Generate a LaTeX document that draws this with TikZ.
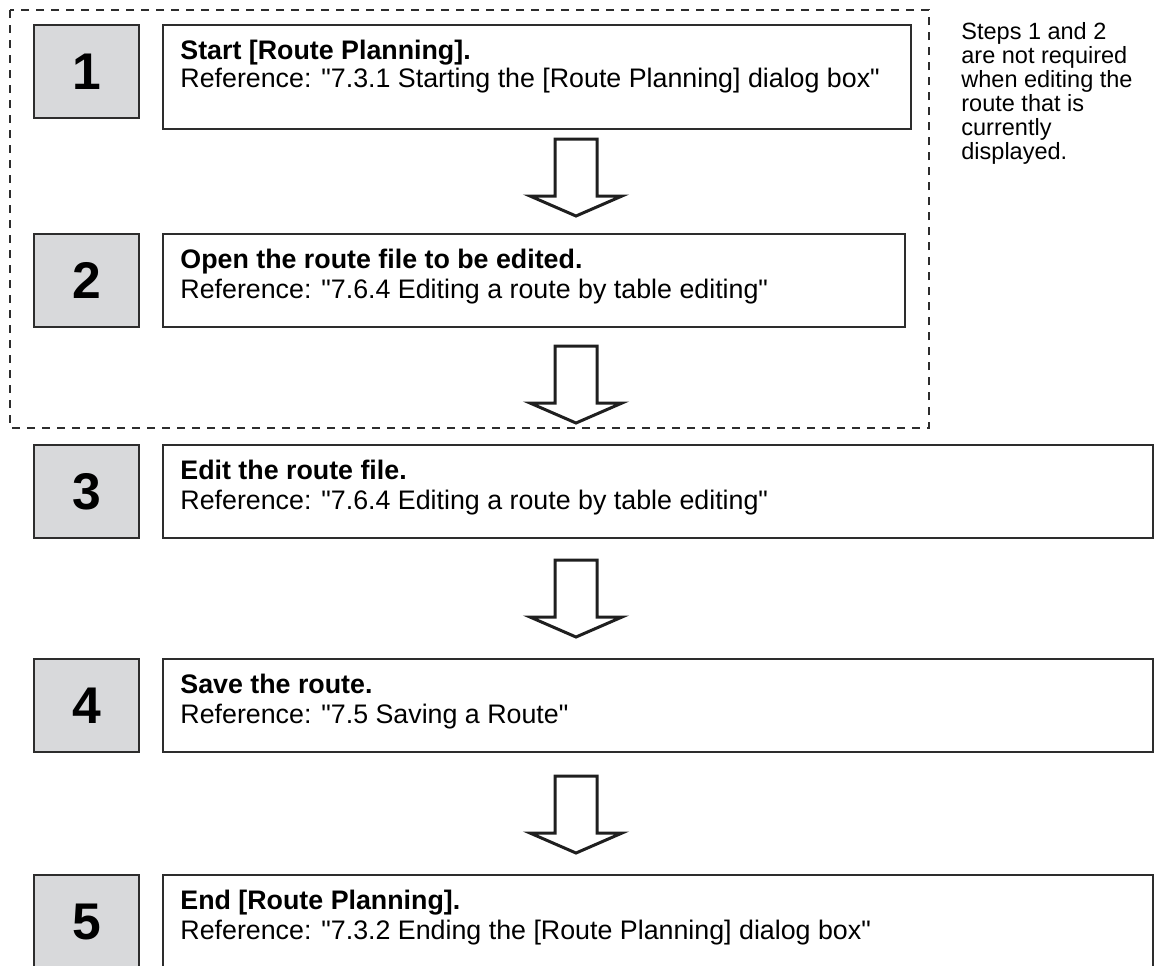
\documentclass[tikz,border=0pt]{standalone}
\usepackage{fontspec}
\setmainfont{Liberation Sans}
\newfontfamily\plainsans{Liberation Sans}
\usetikzlibrary{calc}
\definecolor{boxline}{RGB}{45,45,45}
\definecolor{numfill}{RGB}{216,217,219}

\begin{document}
\begin{tikzpicture}[x=0.5pt, y=-0.5pt,
    numbox/.style={draw=boxline, line width=1pt, fill=numfill, anchor=north west,
      minimum width=52.5pt, minimum height=46.5pt, inner sep=0pt,
      font=\fontsize{25.8}{30}\selectfont\bfseries},
    stepbox/.style={draw=boxline, line width=1pt, anchor=north west,
      minimum height=46.5pt, inner sep=0pt},
    headtext/.style={anchor=base west, inner sep=0pt,
      font=\plainsans\fontsize{13.4}{15}\selectfont\bfseries},
    reftext/.style={anchor=base west, inner sep=0pt,
      font=\plainsans\fontsize{13.4}{15}\selectfont},
    notetext/.style={anchor=north west, align=left, inner sep=0pt,
      font=\fontsize{11.75}{12}\selectfont},
    groupframe/.style={draw=boxline, line width=0.7pt, dash pattern=on 4pt off 3.5pt},
    arrowline/.style={draw=black!88, line width=1.5pt, miter limit=10},
    downarrow/.pic={\draw[arrowline] (-21,-77) -- (21,-77) -- (21,-20) -- (46,-20)
      -- (0,0) -- (-46,-20) -- (-21,-20) -- cycle;}]
  \clip (0,0) rectangle (1154,965);

  % steps 1 and 2 are optional
  \draw[groupframe] (10,10) rectangle (929,428);

  \node[numbox] (n1) at (33,24) {1};
  \node[stepbox, minimum width=374pt, minimum height=52pt] (t1) at (162,24) {};
  \node[headtext] (h1) at ($(t1.north west)+(18,35)$) {Start [Route Planning].};
  \node[reftext] (r1) at ($(t1.north west)+(18,63)$)
    {Reference: "7.3.1 Starting the [Route Planning] dialog box"};

  \node[numbox] (n2) at (33,233) {2};
  \node[stepbox, minimum width=371pt] (t2) at (162,233) {};
  \node[headtext] (h2) at ($(t2.north west)+(18,35)$) {Open the route file to be edited.};
  \node[reftext] (r2) at ($(t2.north west)+(18,65)$)
    {Reference: "7.6.4 Editing a route by table editing"};

  \node[numbox] (n3) at (33,444) {3};
  \node[stepbox, minimum width=495pt] (t3) at (162,444) {};
  \node[headtext] (h3) at ($(t3.north west)+(18,35)$) {Edit the route file.};
  \node[reftext] (r3) at ($(t3.north west)+(18,65)$)
    {Reference: "7.6.4 Editing a route by table editing"};

  \node[numbox] (n4) at (33,658) {4};
  \node[stepbox, minimum width=495pt] (t4) at (162,658) {};
  \node[headtext] (h4) at ($(t4.north west)+(18,35)$) {Save the route.};
  \node[reftext] (r4) at ($(t4.north west)+(18,65)$)
    {Reference: "7.5 Saving a Route"};

  \node[numbox] (n5) at (33,874) {5};
  \node[stepbox, minimum width=495pt] (t5) at (162,874) {};
  \node[headtext] (h5) at ($(t5.north west)+(18,35)$) {End [Route Planning].};
  \node[reftext] (r5) at ($(t5.north west)+(18,65)$)
    {Reference: "7.3.2 Ending the [Route Planning] dialog box"};

  \node[notetext] (note) at (961,22)
    {Steps 1 and 2\\are not required\\when editing the\\route that is\\currently\\displayed.};

  \coordinate (ax) at (576,0);
  \pic at ($(t2.north -| ax)+(0,-17)$) {downarrow};
  \pic at ($(t3.north -| ax)+(0,-21)$) {downarrow};
  \pic at ($(t4.north -| ax)+(0,-21)$) {downarrow};
  \pic at ($(t5.north -| ax)+(0,-21)$) {downarrow};
\end{tikzpicture}
\end{document}
